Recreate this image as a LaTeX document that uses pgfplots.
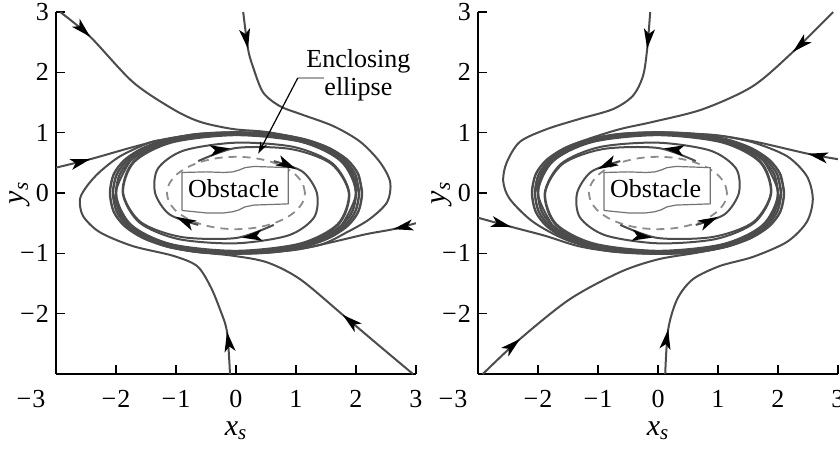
\documentclass[border=0pt]{standalone}
\usepackage{fontspec}
\setmainfont{Liberation Serif}
\usepackage{pgfplots}
\usepackage{pgfplotstable}
\pgfplotsset{compat=1.18}
\usetikzlibrary{arrows.meta}

\definecolor{trajc}{gray}{0.30}
\definecolor{dashc}{gray}{0.55}
\definecolor{obstc}{gray}{0.45}

% limit-cycle band (three neighbouring loops)
\pgfplotstableread{
x y
2.100 0
2.038 0.310
1.853 0.550
1.553 0.743
1.149 0.887
0.648 0.975
0 1.005
-0.648 0.975
-1.149 0.887
-1.553 0.743
-1.853 0.550
-2.038 0.310
-2.100 0
-2.038 -0.310
-1.853 -0.550
-1.553 -0.743
-1.149 -0.887
-0.648 -0.975
0 -1.005
0.648 -0.975
1.149 -0.887
1.553 -0.743
1.853 -0.550
2.038 -0.310
2.100 0
2.038 0.310
}\loopA
\pgfplotstableread{
x y
2.050 0
1.989 0.305
1.809 0.542
1.516 0.732
1.122 0.874
0.632 0.961
0 0.990
-0.632 0.961
-1.122 0.874
-1.516 0.732
-1.809 0.542
-1.989 0.305
-2.050 0
-1.989 -0.305
-1.809 -0.542
-1.516 -0.732
-1.122 -0.874
-0.632 -0.961
0 -0.990
0.632 -0.961
1.122 -0.874
1.516 -0.732
1.809 -0.542
1.989 -0.305
2.050 0
1.989 0.305
}\loopB
\pgfplotstableread{
x y
2.000 0
1.941 0.299
1.765 0.531
1.479 0.718
1.094 0.856
0.617 0.941
0 0.970
-0.617 0.941
-1.094 0.856
-1.479 0.718
-1.765 0.531
-1.941 0.299
-2.000 0
-1.941 -0.299
-1.765 -0.531
-1.479 -0.718
-1.094 -0.856
-0.617 -0.941
0 -0.970
0.617 -0.941
1.094 -0.856
1.479 -0.718
1.765 -0.531
1.941 -0.299
2.000 0
1.941 0.299
}\loopC
% enclosing ellipse
\pgfplotstableread{
x y
1.150 0
1.111 0.155
0.996 0.300
0.813 0.424
0.575 0.520
0.298 0.580
0 0.600
-0.298 0.580
-0.575 0.520
-0.813 0.424
-0.996 0.300
-1.111 0.155
-1.150 0
-1.111 -0.155
-0.996 -0.300
-0.813 -0.424
-0.575 -0.520
-0.298 -0.580
0 -0.600
0.298 -0.580
0.575 -0.520
0.813 -0.424
0.996 -0.300
1.111 -0.155
1.150 0
}\encl
% obstacle outline
\pgfplotstableread{
x y
-0.90 -0.29
-0.90 0.34
-0.50 0.35
-0.20 0.34
-0.05 0.35
0.05 0.38
0.15 0.42
0.30 0.44
0.60 0.43
0.87 0.42
0.87 -0.18
0.60 -0.19
0.30 -0.20
0.15 -0.23
0.05 -0.28
-0.05 -0.31
-0.20 -0.33
-0.50 -0.33
-0.90 -0.29
}\obst
% direction arrows on the trajectories: base point and step to the tip
\pgfplotstableread{
x y u v
-2.538 2.694 0.108 -0.104
0.174 2.538 0.026 -0.148
-2.575 0.521 0.145 0.039
-0.127 -2.448 -0.023 0.148
2.767 -0.568 -0.147 -0.032
1.895 -2.116 -0.115 0.096
-0.249 0.722 0.149 0.018
0.249 -0.722 -0.149 -0.018
0.865 0.460 0.135 -0.065
-0.865 -0.460 -0.135 0.065
}\arrowsL
\pgfplotstableread{
x y u v
2.361 2.441 -0.111 -0.101
-0.163 2.539 -0.017 -0.149
2.647 0.619 -0.147 0.031
0.146 -2.408 0.024 0.148
-2.595 -0.521 0.145 -0.039
-2.414 -2.518 0.114 0.098
0.249 0.722 -0.149 0.018
-0.249 -0.722 0.149 -0.018
-0.865 0.460 -0.135 -0.065
0.865 -0.460 0.135 0.065
}\arrowsR

\pgfplotsset{
  phase/.style={
    width=180pt, height=181pt, scale only axis,
    xmin=-3, xmax=3, ymin=-3, ymax=3, enlargelimits=false,
    axis lines*=left,
    axis line style={line width=0.9pt, black},
    tick align=inside, major tick length=4.5pt,
    every tick/.style={black, line width=0.8pt},
    xtick={-2,-1,0,1,2,3}, xticklabels={−\kern0.6pt2,−\kern0.6pt1,0,1,2,3},
    ytick={-2,-1,0,1,2,3}, yticklabels={−\kern0.6pt2,−\kern0.6pt1,0,1,2,3},
    extra x ticks={-3}, extra x tick labels={−\kern0.6pt3},
    extra x tick style={major tick length=0pt, xticklabel style={xshift=-12.5pt}},
    tick label style={font=\fontsize{13}{15}\selectfont},
    xticklabel style={yshift=-4.5pt},
    xlabel={\textit{x}\textsubscript{\textit{s}}},
    ylabel={\textit{y}\textsubscript{\textit{s}}},
    label style={font=\fontsize{15}{17}\selectfont},
    xlabel style={at={(axis description cs:0.5,-0.157)}, anchor=center},
    ylabel style={at={(axis description cs:-0.1,0.5)}, anchor=center},
  },
  traj/.style={trajc, line width=1pt, smooth},
  band/.style={trajc, line width=1.2pt, smooth},
  heads/.style={black, line width=0.8pt,
    quiver={u=\thisrow{u}, v=\thisrow{v}},
    -{Stealth[length=10pt,width=5.5pt,inset=2.5pt]}},
  ellip/.style={dashc, line width=0.9pt, dash pattern=on 4pt off 3pt, smooth},
  obstacle/.style={obstc, line width=0.6pt, fill=white},
}

\begin{document}
\begin{tikzpicture}
\useasboundingbox (0,0) rectangle (420pt,224.5pt);

% ---------- left: clockwise flow ----------
\begin{axis}[phase, at={(28pt,37.5pt)}, anchor=south west]
\addplot[ellip] table {\encl};
\addplot[obstacle] table {\obst};
\node[anchor=base, font=\fontsize{13}{15}\selectfont] at (axis cs:-0.04,-0.07) {Obstacle};

\addplot[band] table {\loopA};
\addplot[band] table {\loopB};
\addplot[band] table {\loopC};

% trajectories leaving the enclosing ellipse
\addplot[traj] coordinates {(-0.629,0.529) (0,0.746) (0.911,0.729) (1.586,0.484) (1.880,0) (1.696,-0.514) (1.065,-0.838) (0,-0.958) (-1.079,-0.848) (-1.747,-0.528) (-2.000,0) (-1.765,0.531)};
\addplot[traj] coordinates {(0.629,-0.529) (0,-0.746) (-0.911,-0.729) (-1.586,-0.484) (-1.880,0) (-1.696,0.514) (-1.065,0.838) (0,0.958) (1.079,0.848) (1.747,0.528) (2.000,0) (1.765,-0.531)};
\addplot[traj] coordinates {(0.629,0.529) (1.110,0.354) (1.348,0) (1.301,-0.405) (0.876,-0.702) (0,-0.834) (-0.964,-0.763) (-1.610,-0.489) (-1.888,0) (-1.714,0.516) (-1.087,0.850) (0,0.974) (1.115,0.868) (1.809,0.542) (2.050,0)};
\addplot[traj] coordinates {(-0.629,-0.529) (-1.110,-0.354) (-1.348,0) (-1.301,0.405) (-0.876,0.702) (0,0.834) (0.964,0.763) (1.610,0.489) (1.888,0) (1.714,-0.516) (1.087,-0.850) (0,-0.974) (-1.115,-0.868) (-1.809,-0.542) (-2.050,0)};

% trajectories arriving from outside
\addplot[traj] coordinates {(-2.93,3.0) (-2.43,2.59) (-1.72,1.84) (-1.05,1.39) (-0.6,1.18) (-0.05,1.06) (0.52,1.01) (1.149,0.887) (1.553,0.743) (1.853,0.550)};
\addplot[traj] coordinates {(0.12,3.0) (0.2,2.39) (0.28,2.1) (0.45,1.67) (0.73,1.44) (1.07,1.31) (1.62,1.11) (2.07,0.85) (2.4,0.51) (2.57,0.18) (2.52,-0.15) (2.23,-0.43) (1.85,-0.65) (1.4,-0.86) (0.648,-0.98) (0,-1.007) (-0.648,-0.977) (-1.149,-0.887)};
\addplot[traj] coordinates {(-3.0,0.42) (-2.43,0.56) (-1.72,0.76) (-1.15,0.9) (-0.632,0.965) (0,0.99) (0.632,0.961) (1.122,0.874) (1.516,0.732)};
\addplot[traj] coordinates {(-0.1,-3.0) (-0.15,-2.3) (-0.27,-1.92) (-0.43,-1.54) (-0.65,-1.21) (-1.05,-1.04) (-1.72,-0.88) (-2.27,-0.65) (-2.55,-0.38) (-2.6,-0.1) (-2.48,0.12) (-2.27,0.35) (-1.93,0.61) (-1.43,0.84) (-1.149,0.89) (-0.648,0.977) (0,1.007) (0.648,0.977)};
\addplot[traj] coordinates {(3.0,-0.5) (2.62,-0.6) (2.18,-0.68) (1.62,-0.81) (1.07,-0.93) (0.632,-0.975) (0,-0.99) (-0.632,-0.961) (-1.122,-0.874)};
\addplot[traj] coordinates {(2.95,-3.0) (2.35,-2.5) (1.78,-2.02) (1.07,-1.43) (0.52,-1.15) (-0.05,-1.04) (-0.648,-0.977) (-1.149,-0.887) (-1.553,-0.743)};

\addplot[heads] table {\arrowsL};

% callout
\draw[black!35, line width=1pt] (axis cs:1.03,1.907) -- (axis cs:1.47,1.907);
\draw[black, line width=0.6pt, -{Stealth[length=6pt,width=3.6pt]}] (axis cs:1.03,1.907) -- (axis cs:0.37,0.65);
\node[anchor=base, font=\fontsize{13}{15}\selectfont] at (axis cs:2.04,2.085) {Enclosing};
\node[anchor=base, font=\fontsize{13}{15}\selectfont] at (axis cs:2.04,1.62) {ellipse};
\end{axis}

% ---------- right: counter-clockwise flow ----------
\begin{axis}[phase, at={(239pt,37.5pt)}, anchor=south west]
\addplot[ellip] table {\encl};
\addplot[obstacle] table {\obst};
\node[anchor=base, font=\fontsize{13}{15}\selectfont] at (axis cs:-0.04,-0.07) {Obstacle};

\addplot[band] table {\loopA};
\addplot[band] table {\loopB};
\addplot[band] table {\loopC};

\addplot[traj] coordinates {(0.629,0.529) (0,0.746) (-0.911,0.729) (-1.586,0.484) (-1.880,0) (-1.696,-0.514) (-1.065,-0.838) (0,-0.958) (1.079,-0.848) (1.747,-0.528) (2.000,0) (1.765,0.531)};
\addplot[traj] coordinates {(-0.629,-0.529) (0,-0.746) (0.911,-0.729) (1.586,-0.484) (1.880,0) (1.696,0.514) (1.065,0.838) (0,0.958) (-1.079,0.848) (-1.747,0.528) (-2.000,0) (-1.765,-0.531)};
\addplot[traj] coordinates {(-0.629,0.529) (-1.110,0.354) (-1.348,0) (-1.301,-0.405) (-0.876,-0.702) (0,-0.834) (0.964,-0.763) (1.610,-0.489) (1.888,0) (1.714,0.516) (1.087,0.850) (0,0.974) (-1.115,0.868) (-1.809,0.542) (-2.050,0)};
\addplot[traj] coordinates {(0.629,-0.529) (1.110,-0.354) (1.348,0) (1.301,0.405) (0.876,0.702) (0,0.834) (-0.964,0.763) (-1.610,0.489) (-1.888,0) (-1.714,-0.516) (-1.087,-0.850) (0,-0.974) (1.115,-0.868) (1.809,-0.542) (2.050,0)};

\addplot[traj] coordinates {(2.92,3.0) (2.25,2.34) (1.58,1.77) (0.75,1.39) (-0.08,1.18) (-0.63,1.06) (-1.149,0.9) (-1.553,0.746) (-1.853,0.550)};
\addplot[traj] coordinates {(-0.13,3.0) (-0.18,2.39) (-0.25,1.94) (-0.42,1.61) (-0.75,1.39) (-1.3,1.23) (-1.85,1.06) (-2.3,0.85) (-2.52,0.51) (-2.58,0.2) (-2.47,-0.1) (-2.08,-0.48) (-1.52,-0.78) (-0.85,-0.96) (0,-1.01) (0.648,-0.98) (1.149,-0.887) (1.553,-0.743)};
\addplot[traj] coordinates {(3.0,0.56) (2.5,0.65) (1.67,0.84) (1.1,0.94) (0.632,0.975) (0,0.99) (-0.632,0.961) (-1.122,0.874) (-1.516,0.732)};
\addplot[traj] coordinates {(0.12,-3.0) (0.17,-2.26) (0.32,-1.76) (0.58,-1.43) (1.03,-1.21) (1.58,-1.06) (2.15,-0.81) (2.48,-0.48) (2.58,-0.1) (2.48,0.28) (2.15,0.61) (1.58,0.84) (1.03,0.95) (0.648,0.98) (0,1.007) (-0.648,0.977) (-1.149,0.887)};
\addplot[traj] coordinates {(-3.0,-0.41) (-2.45,-0.56) (-1.88,-0.71) (-1.33,-0.88) (-0.78,-0.965) (0,-0.99) (0.632,-0.961) (1.122,-0.874) (1.516,-0.732)};
\addplot[traj] coordinates {(-2.92,-3.0) (-2.3,-2.42) (-1.47,-1.76) (-0.63,-1.31) (0,-1.1) (0.648,-0.99) (1.149,-0.887) (1.553,-0.743)};

\addplot[heads] table {\arrowsR};
\end{axis}
\end{tikzpicture}
\end{document}
